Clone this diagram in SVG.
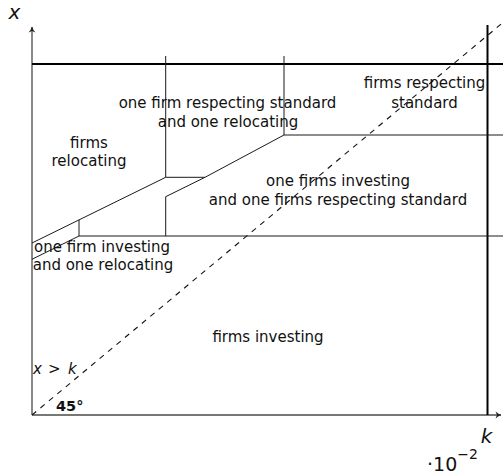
<svg xmlns="http://www.w3.org/2000/svg" width="503" height="476" viewBox="0 0 503 476">
<style>
  .lbl { font-family: "DejaVu Sans", "Liberation Sans", sans-serif; font-size: 15px; fill: #111; text-anchor: middle; }
  .math { font-family: "DejaVu Sans", "Liberation Sans", sans-serif; font-style: italic; fill: #111; }
  .thin { stroke: #1a1a1a; stroke-width: 1; fill: none; }
  .thick { stroke: #000; stroke-width: 2; fill: none; }
  .axis { stroke: #4a4a4a; stroke-width: 1.3; fill: none; }
  .dash { stroke: #111; stroke-width: 1.1; fill: none; stroke-dasharray: 5.5 5.5; }
</style>
<defs>
  <marker id="arr" markerWidth="10" markerHeight="10" refX="7" refY="5" orient="auto" markerUnits="userSpaceOnUse">
    <path d="M1.5,1.5 Q4.5,4.2 7.5,5 Q4.5,5.8 1.5,8.5 L3,5 Z" fill="#222"/>
  </marker>
</defs>
<rect width="503" height="476" fill="#fff"/>

<g id="connectors">
  <line id="x-axis" class="axis" x1="32" y1="415" x2="501" y2="415" marker-end="url(#arr)"/>
  <line id="y-axis" class="axis" x1="32" y1="415" x2="32" y2="27" marker-end="url(#arr)"/>
  <line class="dash" x1="32" y1="415" x2="503" y2="22.5"/>
  <line class="thick" x1="32" y1="64" x2="503" y2="64"/>
  <line class="thick" x1="487.5" y1="25" x2="487.5" y2="415"/>
  <line class="thin" x1="165.7" y1="56" x2="165.7" y2="177.3"/>
  <line class="thin" x1="284" y1="56" x2="284" y2="135"/>
  <line class="thin" x1="284" y1="135" x2="503" y2="135"/>
  <polyline class="thin" points="32,243 165.7,177.3 205,177.3 284,135"/>
  <polyline class="thin" points="165.7,236 165.7,196.7 205,177.3"/>
  <line class="thin" x1="32" y1="259.3" x2="79" y2="236"/>
  <line class="thin" x1="79" y1="219.9" x2="79" y2="236"/>
  <line class="thin" x1="79" y1="236" x2="503" y2="236"/>
</g>

<g id="region-one-respecting-one-relocating">
  <text class="lbl" x="227.5" y="108">one firm respecting standard</text>
  <text class="lbl" x="228" y="127">and one relocating</text>
</g>
<g id="region-firms-respecting">
  <text class="lbl" x="424.5" y="88">firms respecting</text>
  <text class="lbl" x="424.5" y="108">standard</text>
</g>
<g id="region-firms-relocating">
  <text class="lbl" x="89" y="148">firms</text>
  <text class="lbl" x="89" y="166">relocating</text>
</g>
<g id="region-one-investing-one-respecting">
  <text class="lbl" x="338" y="186">one firms investing</text>
  <text class="lbl" x="338" y="205">and one firms respecting standard</text>
</g>
<g id="region-one-investing-one-relocating">
  <text class="lbl" x="102" y="252">one firm investing</text>
  <text class="lbl" x="103" y="270">and one relocating</text>
</g>
<g id="region-firms-investing">
  <text class="lbl" x="268" y="342">firms investing</text>
</g>
<g id="annotations">
  <text class="math" y="374" font-size="15"><tspan x="33">x</tspan><tspan x="48" font-style="normal">&gt;</tspan><tspan x="68">k</tspan></text>
  <text x="56" y="411" font-family="DejaVu Sans, sans-serif" font-size="14.5" font-weight="bold" fill="#111">45°</text>
  <text class="math" x="14.5" y="19" font-size="20" text-anchor="middle">x</text>
  <text class="math" x="486.5" y="443" font-size="20" text-anchor="middle">k</text>
  <text x="427" y="471" font-family="DejaVu Sans, sans-serif" font-size="19" fill="#111">·10<tspan font-size="14" dy="-12">−2</tspan></text>
</g>
</svg>
